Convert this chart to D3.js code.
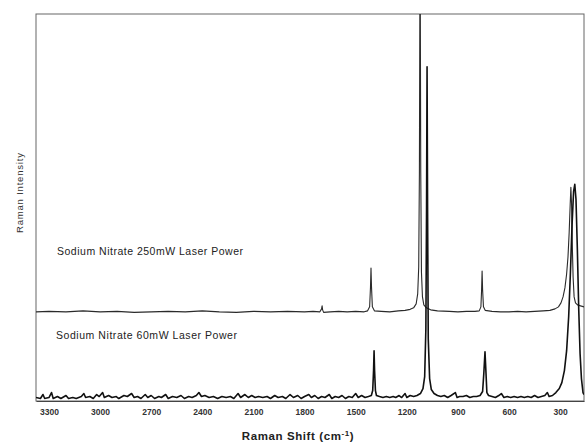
<!DOCTYPE html>
<html>
<head>
<meta charset="utf-8">
<script src="https://cdn.jsdelivr.net/npm/d3@7"></script>
<style>
  body { margin: 0; background: #fff; }
  svg { display: block; font-family: "Liberation Sans", Arial, sans-serif; }
</style>
</head>
<body>
<svg id="chart"></svg>
<script>
// Raman shift ticks (cm-1)
let tickValues = [3300, 3000, 2700, 2400, 2100, 1800, 1500, 1200, 900, 600, 300]

let seriesNames = ['Sodium Nitrate 250mW Laser Power', 'Sodium Nitrate 60mW Laser Power']

// vertical offset of the 250mW trace above the 60mW trace
let upperOffset = 87

// [raman shift, intensity], 250mW trace (before offset)
let spectrum250 = [
  [3376, 0], [3300, 0.5], [3200, 0], [3100, 1], [3000, 0], [2900, 0.5], [2800, -0.5], [2700, 0],
  [2600, 0.5], [2500, 0], [2400, 1], [2300, 0], [2200, -0.5], [2100, 0.5], [2000, 0], [1900, 0.5],
  [1800, 0], [1750, 0.5], [1710, 0], [1700, 3], [1697, 6], [1694, 2], [1688, -0.5], [1650, 0],
  [1600, 0.5], [1550, 0], [1500, 0.5], [1450, 0], [1430, 1], [1418, 5], [1413, 25], [1410, 44],
  [1407, 25], [1402, 5], [1390, 1], [1350, 0.5], [1300, 0], [1250, 1], [1210, 1.5], [1180, 2.5],
  [1160, 4], [1145, 8], [1136, 18], [1130, 45], [1126, 140], [1122, 390], [1118, 140], [1114, 40],
  [1108, 15], [1100, 7], [1085, 4], [1060, 2], [1020, 1], [950, 0.5], [900, 0], [850, 0.5],
  [800, 0.5], [775, 1], [765, 5], [761, 22], [758, 41], [755, 22], [750, 5], [740, 1.5],
  [700, 0.5], [650, 0], [600, 0], [550, 0.5], [500, 0], [450, 0.5], [400, 1], [360, 1.5],
  [330, 3], [310, 5], [295, 9], [283, 15], [272, 24], [262, 38], [254, 55], [247, 80],
  [241, 108], [237, 125], [233, 108], [229, 70], [224, 35], [218, 15], [210, 9], [198, 7],
  [180, 6], [160, 5]
]

// [raman shift, intensity], 60mW trace
let spectrum60 = [
  [3376, 1], [3350, 0], [3335, 4], [3325, 0], [3300, 1], [3285, 6], [3275, 0], [3250, 2],
  [3230, 0], [3200, 3], [3185, 0], [3160, 1], [3140, 0], [3110, 2], [3095, 5], [3085, 1],
  [3060, 2], [3040, 0], [3020, 4], [3005, 2], [2985, 6], [2975, 1], [2950, 3], [2930, 1],
  [2905, 2], [2890, 0], [2860, 3], [2840, 2], [2815, 5], [2800, 1], [2780, 2], [2760, 0],
  [2735, 4], [2720, 1], [2700, 3], [2680, 0], [2655, 2], [2640, 1], [2615, 4], [2600, 0],
  [2575, 2], [2550, 1], [2525, 3], [2505, 0], [2480, 2], [2460, 1], [2435, 3], [2420, 6],
  [2405, 2], [2385, 3], [2360, 1], [2335, 2], [2310, 0], [2285, 2], [2260, 1], [2235, 2],
  [2215, 0], [2190, 5], [2175, 1], [2150, 4], [2130, 1], [2110, 3], [2090, 1], [2070, 2],
  [2045, 1], [2020, 2], [2000, 0], [1975, 3], [1955, 1], [1930, 2], [1910, 0], [1885, 4],
  [1865, 1], [1840, 3], [1820, 0], [1800, 2], [1775, 4], [1760, 1], [1740, 3], [1720, 0],
  [1700, 2], [1680, 1], [1655, 4], [1640, 0], [1620, 2], [1600, 1], [1580, 3], [1560, 0],
  [1540, 2], [1520, 1], [1500, 5], [1485, 1], [1465, 3], [1445, 1], [1425, 2], [1408, 3],
  [1400, 8], [1395, 28], [1392, 48], [1389, 28], [1384, 8], [1378, 3], [1360, 2], [1340, 1],
  [1320, 2], [1300, 1], [1280, 2], [1265, 1], [1245, 3], [1230, 1], [1210, 5], [1200, 1],
  [1180, 3], [1160, 2], [1140, 3], [1120, 5], [1105, 10], [1095, 22], [1088, 70], [1084, 190],
  [1081, 333], [1078, 190], [1074, 60], [1066, 20], [1056, 9], [1040, 5], [1020, 3], [1000, 2],
  [980, 3], [960, 1], [940, 3], [915, 6], [905, 1], [890, 2], [870, 2], [850, 3],
  [830, 1], [810, 2], [790, 2], [770, 3], [755, 7], [748, 25], [741, 47], [735, 25],
  [730, 6], [720, 3], [700, 2], [680, 1], [660, 3], [645, 5], [630, 1], [610, 2],
  [590, 1], [570, 2], [550, 1], [530, 2], [510, 1], [490, 2], [470, 1], [450, 3],
  [430, 1], [410, 2], [390, 3], [375, 6], [365, 2], [345, 3], [325, 6], [305, 10],
  [290, 16], [275, 28], [262, 48], [250, 82], [240, 125], [230, 175], [221, 208], [214, 215],
  [207, 200], [199, 150], [191, 90], [183, 45], [175, 20], [166, 6], [160, 4]
]

let w = 586
let h = 445
let margin = { top: 14, right: 2, bottom: 43, left: 36 }

let svg = d3.select('#chart')
  .attr('width', w)
  .attr('height', h)

let xScale = d3.scaleLinear()
  .domain([3376, 160])
  .range([margin.left, w - margin.right])

let yScale = d3.scaleLinear()
  .domain([-2.5, 386])
  .range([h - margin.bottom - 1, margin.top])

svg.append('clipPath')
  .attr('id', 'plot-clip')
  .append('rect')
  .attr('x', margin.left)
  .attr('y', margin.top)
  .attr('width', w - margin.right - margin.left)
  .attr('height', yScale(-2.5) - margin.top)

// frame (top / right / left)
svg.append('rect')
  .attr('x', margin.left)
  .attr('y', margin.top)
  .attr('width', w - margin.right - margin.left)
  .attr('height', yScale(-2.5) - margin.top)
  .attr('fill', 'none')
  .attr('stroke', '#666')
  .attr('stroke-width', 1)

let xAxis = d3.axisBottom(xScale)
  .tickValues(tickValues)
  .tickFormat(d3.format('d'))
  .tickSize(0)
  .tickPadding(8)

let gx = svg.append('g')
  .attr('id', 'x-axis')
  .attr('transform', 'translate(0,' + yScale(-2.5) + ')')
  .call(xAxis)

gx.select('.domain').attr('stroke', '#444').attr('stroke-width', 1.2)
gx.selectAll('text')
  .attr('font-size', 8.5)
  .attr('font-weight', 'bold')
  .attr('fill', '#333')
  .attr('font-family', '"Liberation Sans", Arial, sans-serif')

let line = d3.line()
  .x((d) => xScale(d[0]))
  .y((d) => yScale(d[1]))

svg.append('path')
  .datum(spectrum250.map((d) => [d[0], d[1] + upperOffset]))
  .attr('clip-path', 'url(#plot-clip)')
  .attr('d', line)
  .attr('fill', 'none')
  .attr('stroke', '#2a2a2a')
  .attr('stroke-width', 1.1)
  .attr('stroke-linejoin', 'round')

svg.append('path')
  .datum(spectrum60)
  .attr('clip-path', 'url(#plot-clip)')
  .attr('d', line)
  .attr('fill', 'none')
  .attr('stroke', '#111')
  .attr('stroke-width', 1.6)
  .attr('stroke-linejoin', 'round')

// series labels
svg.append('text')
  .attr('x', 57)
  .attr('y', 255)
  .attr('font-size', 10.5)
  .attr('textLength', 186)
  .attr('fill', '#222')
  .text(seriesNames[0])

svg.append('text')
  .attr('x', 56)
  .attr('y', 339)
  .attr('font-size', 10.5)
  .attr('textLength', 181)
  .attr('fill', '#222')
  .text(seriesNames[1])

// axis titles
let xTitle = svg.append('text')
  .attr('x', 298)
  .attr('y', 440)
  .attr('text-anchor', 'middle')
  .attr('font-size', 11.5)
  .attr('font-weight', 'bold')
  .attr('letter-spacing', 0.6)
  .attr('fill', '#222')
xTitle.append('tspan').text('Raman Shift (cm')
xTitle.append('tspan').attr('font-size', 8).attr('dy', -4).text('-1')
xTitle.append('tspan').attr('dy', 4).text(')')

svg.append('text')
  .attr('transform', 'translate(23,193) rotate(-90)')
  .attr('text-anchor', 'middle')
  .attr('font-size', 9.5)
  .attr('fill', '#333')
  .attr('textLength', 80)
  .text('Raman Intensity')
</script>
</body>
</html>
